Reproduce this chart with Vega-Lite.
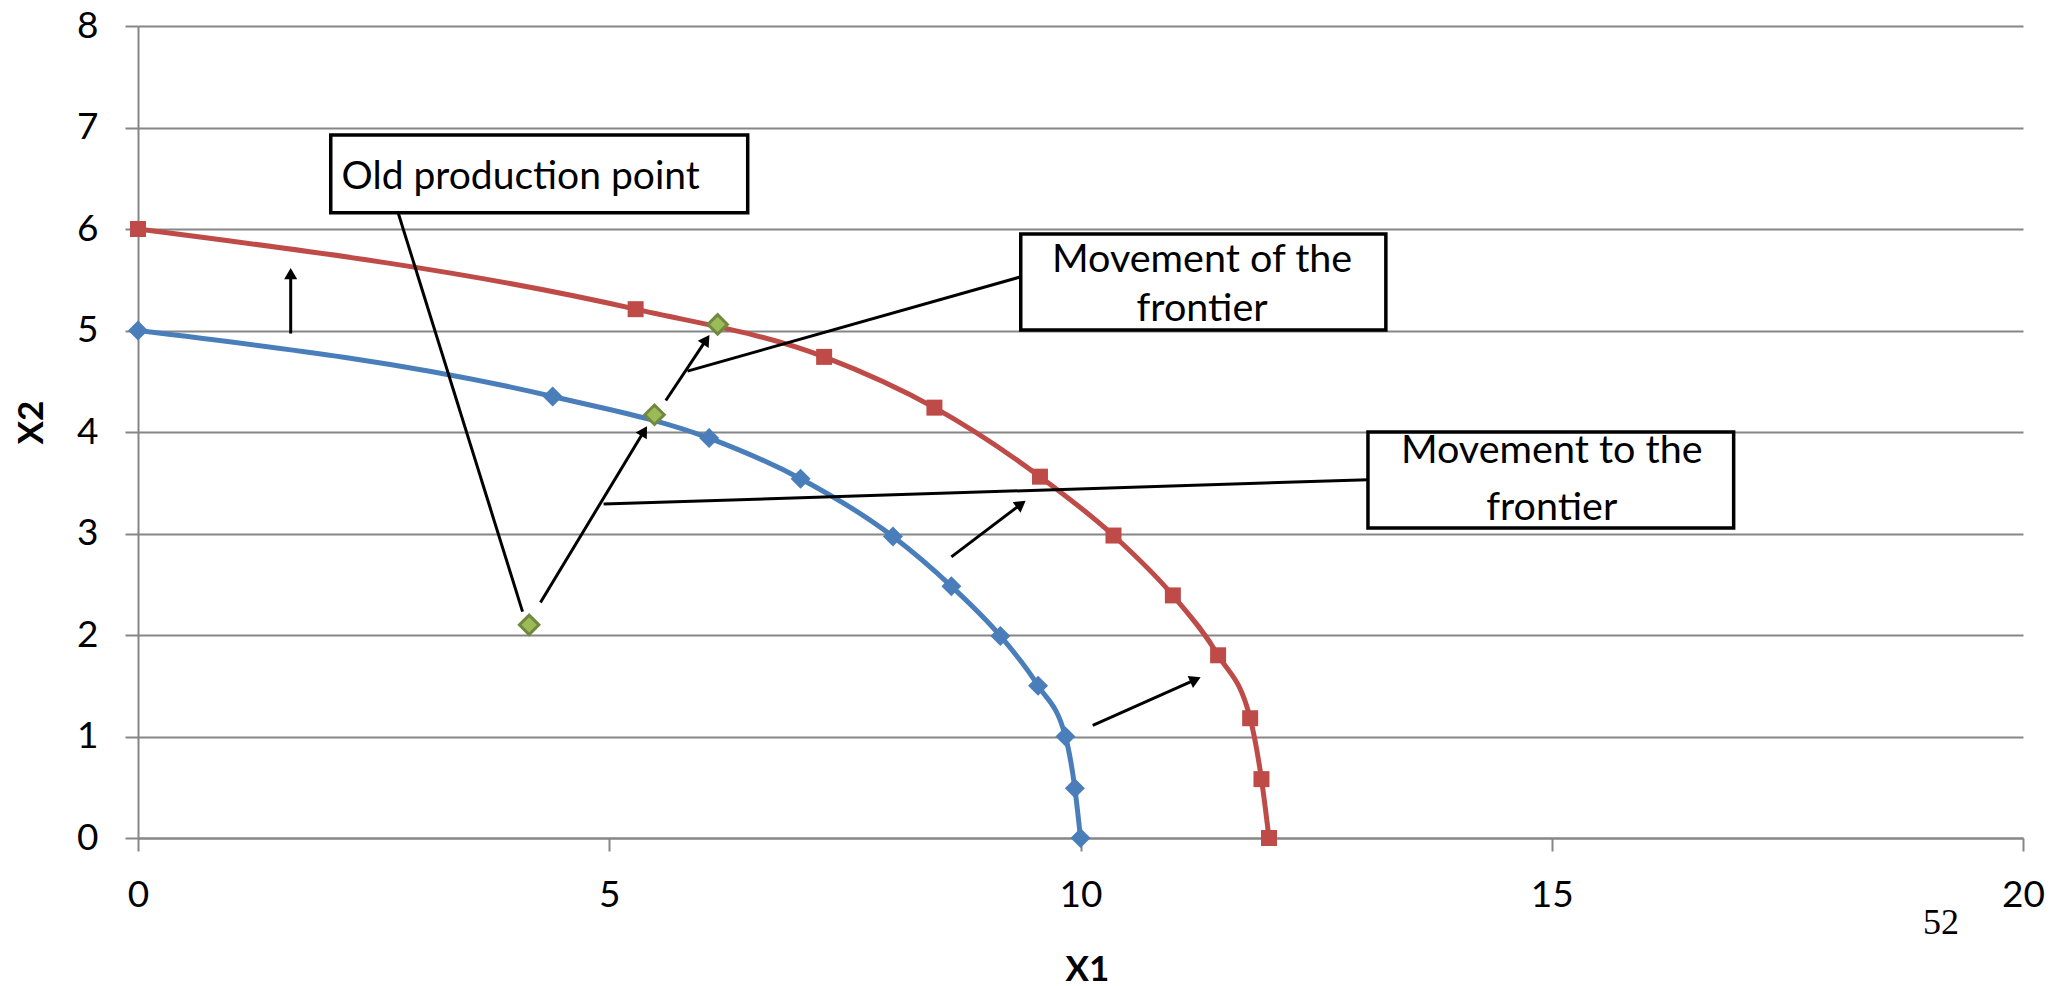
{
  "$schema": "https://vega.github.io/schema/vega-lite/v6.json",
  "width": 1885,
  "height": 812,
  "autosize": {"type": "none"},
  "padding": {"left": 138, "top": 26, "right": 27, "bottom": 148},
  "background": "white",
  "config": {"view": {"stroke": null}, "font": "Lato"},
  "datasets": {
    "frontiers": [
      {"series": "Old frontier", "X1": 0, "X2": 5},
      {"series": "Old frontier", "X1": 4.40, "X2": 4.35},
      {"series": "Old frontier", "X1": 6.06, "X2": 3.94},
      {"series": "Old frontier", "X1": 7.03, "X2": 3.54},
      {"series": "Old frontier", "X1": 8.01, "X2": 2.97},
      {"series": "Old frontier", "X1": 8.63, "X2": 2.48},
      {"series": "Old frontier", "X1": 9.15, "X2": 1.99},
      {"series": "Old frontier", "X1": 9.55, "X2": 1.50},
      {"series": "Old frontier", "X1": 9.84, "X2": 1.00},
      {"series": "Old frontier", "X1": 9.94, "X2": 0.49},
      {"series": "Old frontier", "X1": 10.0, "X2": 0},
      {"series": "New frontier", "X1": 0, "X2": 6},
      {"series": "New frontier", "X1": 5.28, "X2": 5.21},
      {"series": "New frontier", "X1": 7.28, "X2": 4.74},
      {"series": "New frontier", "X1": 8.45, "X2": 4.24},
      {"series": "New frontier", "X1": 9.57, "X2": 3.56},
      {"series": "New frontier", "X1": 10.35, "X2": 2.98},
      {"series": "New frontier", "X1": 10.98, "X2": 2.39},
      {"series": "New frontier", "X1": 11.46, "X2": 1.80},
      {"series": "New frontier", "X1": 11.80, "X2": 1.18},
      {"series": "New frontier", "X1": 11.92, "X2": 0.58},
      {"series": "New frontier", "X1": 12.0, "X2": 0}
    ],
    "production": [
      {"X1": 4.15, "X2": 2.10},
      {"X1": 5.48, "X2": 4.17},
      {"X1": 6.15, "X2": 5.06}
    ],
    "segments": [
      {"kind": "arrow", "X1": 1.62, "X2": 4.97, "X1end": 1.62, "X2end": 5.56},
      {"kind": "arrow", "X1": 4.27, "X2": 2.32, "X1end": 5.37, "X2end": 4.01},
      {"kind": "arrow", "X1": 5.60, "X2": 4.31, "X1end": 6.03, "X2end": 4.91},
      {"kind": "arrow", "X1": 8.63, "X2": 2.77, "X1end": 9.37, "X2end": 3.29},
      {"kind": "arrow", "X1": 10.13, "X2": 1.11, "X1end": 11.22, "X2end": 1.56},
      {"kind": "leader", "X1": 2.76, "X2": 6.16, "X1end": 4.08, "X2end": 2.23},
      {"kind": "leader", "X1": 5.83, "X2": 4.60, "X1end": 9.37, "X2end": 5.53},
      {"kind": "leader", "X1": 4.94, "X2": 3.29, "X1end": 13.05, "X2end": 3.53}
    ],
    "boxes": [
      {"X1": 2.045, "X2": 6.926, "X1end": 6.469, "X2end": 6.161},
      {"X1": 9.366, "X2": 5.951, "X1end": 13.24, "X2end": 5.005},
      {"X1": 13.05, "X2": 4.0, "X1end": 16.93, "X2end": 3.054}
    ],
    "leftText": [
      {"X1": 2.16, "X2": 6.39, "label": "Old production point"}
    ],
    "centerText": [
      {"X1": 11.29, "X2": 5.58, "label": "Movement of the"},
      {"X1": 11.29, "X2": 5.09, "label": "frontier"},
      {"X1": 15.0, "X2": 3.69, "label": "Movement to the"},
      {"X1": 15.0, "X2": 3.13, "label": "frontier"}
    ],
    "page": [
      {"X1": 19.13, "X2": -0.84, "label": "52"}
    ]
  },
  "encoding": {
    "x": {
      "field": "X1",
      "type": "quantitative",
      "scale": {"domain": [0, 20], "nice": false, "zero": false},
      "axis": {
        "title": "X1",
        "values": [0, 5, 10, 15, 20],
        "grid": false,
        "domainColor": "#868686",
        "domainWidth": 2,
        "tickColor": "#868686",
        "tickWidth": 2,
        "tickSize": 13,
        "labelFont": "Lato",
        "labelFontSize": 37,
        "labelColor": "black",
        "labelPadding": 26,
        "labelFlush": false,
        "labelOverlap": false,
        "titleFont": "Lato",
        "titleFontSize": 35,
        "titleFontWeight": "bold",
        "titleColor": "black",
        "titleX": 949,
        "titleY": 131,
        "titleAlign": "center",
        "titleBaseline": "middle"
      }
    },
    "y": {
      "field": "X2",
      "type": "quantitative",
      "scale": {"domain": [0, 8], "nice": false, "zero": false},
      "axis": {
        "title": "X2",
        "values": [0, 1, 2, 3, 4, 5, 6, 7, 8],
        "grid": true,
        "gridColor": "#868686",
        "gridWidth": 2,
        "domainColor": "#868686",
        "domainWidth": 2,
        "tickColor": "#868686",
        "tickWidth": 2,
        "tickSize": 13,
        "labelFont": "Lato",
        "labelFontSize": 37,
        "labelColor": "black",
        "labelPadding": 27,
        "labelFlush": false,
        "labelOverlap": false,
        "titleFont": "Lato",
        "titleFontSize": 35,
        "titleFontWeight": "bold",
        "titleColor": "black",
        "titleAngle": -90,
        "titleX": -107,
        "titleY": 396,
        "titleAlign": "center",
        "titleBaseline": "middle"
      }
    }
  },
  "layer": [
    {
      "data": {"name": "frontiers"},
      "mark": {"type": "line", "interpolate": "monotone", "strokeWidth": 5},
      "encoding": {
        "color": {"field": "series", "type": "nominal", "scale": {"domain": ["Old frontier", "New frontier"], "range": ["#4a7ebb", "#be4b48"]}, "legend": null}
      }
    },
    {
      "data": {"name": "frontiers"},
      "mark": {"type": "point", "filled": true, "opacity": 1},
      "encoding": {
        "color": {"field": "series", "type": "nominal", "scale": {"domain": ["Old frontier", "New frontier"], "range": ["#4a7ebb", "#be4b48"]}, "legend": null},
        "shape": {"field": "series", "type": "nominal", "scale": {"domain": ["Old frontier", "New frontier"], "range": ["diamond", "square"]}, "legend": null},
        "size": {"field": "series", "type": "nominal", "scale": {"domain": ["Old frontier", "New frontier"], "range": [400, 256]}, "legend": null}
      }
    },
    {
      "data": {"name": "segments"},
      "mark": {"type": "rule", "color": "black", "strokeWidth": 3},
      "encoding": {
        "x2": {"field": "X1end"},
        "y2": {"field": "X2end"}
      }
    },
    {
      "data": {"name": "segments"},
      "transform": [
        {"filter": "datum.kind === 'arrow'"},
        {"calculate": "atan2((datum.X1end - datum.X1) * 94.25, (datum.X2end - datum.X2) * 101.5) * 180 / PI", "as": "ang"}
      ],
      "mark": {"type": "point", "shape": "triangle-up", "filled": true, "color": "black", "opacity": 1, "size": 170},
      "encoding": {
        "x": {"field": "X1end", "type": "quantitative"},
        "y": {"field": "X2end", "type": "quantitative"},
        "angle": {"field": "ang", "type": "quantitative", "scale": null}
      }
    },
    {
      "data": {"name": "production"},
      "mark": {"type": "point", "shape": "diamond", "filled": true, "fill": "#9bbb59", "stroke": "#71893f", "strokeWidth": 3, "opacity": 1, "size": 380}
    },
    {
      "data": {"name": "boxes"},
      "mark": {"type": "rect", "fill": "white", "stroke": "black", "strokeWidth": 3.5},
      "encoding": {
        "x2": {"field": "X1end"},
        "y2": {"field": "X2end"}
      }
    },
    {
      "data": {"name": "leftText"},
      "mark": {"type": "text", "align": "left", "baseline": "alphabetic", "font": "Lato", "fontSize": 39, "color": "black"},
      "encoding": {"text": {"field": "label"}}
    },
    {
      "data": {"name": "centerText"},
      "mark": {"type": "text", "align": "center", "baseline": "alphabetic", "font": "Lato", "fontSize": 39.5, "color": "black"},
      "encoding": {"text": {"field": "label"}}
    },
    {
      "data": {"name": "page"},
      "mark": {"type": "text", "align": "center", "baseline": "middle", "font": "Liberation Serif", "fontSize": 36, "color": "black"},
      "encoding": {"text": {"field": "label"}}
    }
  ]
}
